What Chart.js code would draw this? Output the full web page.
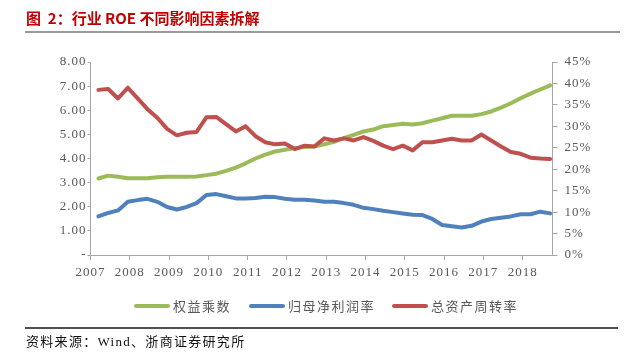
<!DOCTYPE html>
<html lang="zh">
<head>
<meta charset="UTF-8">
<title>行业 ROE 不同影响因素拆解</title>
<script src="https://cdn.jsdelivr.net/npm/chart.js"></script>
<style>
  html, body { margin: 0; padding: 0; background: #fff; }
  #wrap { position: relative; width: 626px; height: 358px; overflow: hidden; }
  #chart { position: absolute; left: 0; top: 0; }
  .title { position: absolute; left: 26px; top: 8px; font: bold 15px "Noto Sans CJK SC", sans-serif; color: #c00000; white-space: pre; line-height: 20px; }
  .rule1 { position: absolute; left: 25px; top: 31px; width: 595px; height: 2px; background: #9a9a9a; }
  .rule2 { position: absolute; left: 25px; top: 327px; width: 593px; height: 2px; background: #505050; }
  .legend { position: absolute; top: 297px; left: 0; height: 18px; }
  .legend .item { position: absolute; top: 0; white-space: nowrap; font: 13px "Noto Sans CJK SC", sans-serif; color: #595959; letter-spacing: 1.5px; line-height: 18px; }
  .legend .swatch { position: absolute; top: 7px; width: 36px; height: 4px; border-radius: 2px; }
  .source { position: absolute; left: 26px; top: 333px; font: 13px "Liberation Serif", "Noto Sans CJK SC", serif; color: #111; letter-spacing: 1.3px; white-space: nowrap; line-height: 18px; }
</style>
</head>
<body>
<div id="wrap">
  <canvas id="chart" width="626" height="358"></canvas>
  <div class="title">图  2：行业 ROE 不同影响因素拆解</div>
  <div class="rule1"></div>
  <div class="legend" id="legend"></div>
  <div class="rule2"></div>
  <div class="source">资料来源：Wind、浙商证券研究所</div>
</div>

<script>
    //季度（2007Q1 - 2018Q3）
    const quarters = [
        '2007Q1', '2007Q2', '2007Q3', '2007Q4',
        '2008Q1', '2008Q2', '2008Q3', '2008Q4',
        '2009Q1', '2009Q2', '2009Q3', '2009Q4',
        '2010Q1', '2010Q2', '2010Q3', '2010Q4',
        '2011Q1', '2011Q2', '2011Q3', '2011Q4',
        '2012Q1', '2012Q2', '2012Q3', '2012Q4',
        '2013Q1', '2013Q2', '2013Q3', '2013Q4',
        '2014Q1', '2014Q2', '2014Q3', '2014Q4',
        '2015Q1', '2015Q2', '2015Q3', '2015Q4',
        '2016Q1', '2016Q2', '2016Q3', '2016Q4',
        '2017Q1', '2017Q2', '2017Q3', '2017Q4',
        '2018Q1', '2018Q2', '2018Q3'
    ];

    // 权益乘数（左轴）
    const equityMultiplier = [
        3.17, 3.29, 3.24, 3.18, 3.18, 3.18, 3.22, 3.24, 3.24, 3.24, 3.25, 3.31,
        3.37, 3.49, 3.62, 3.80, 4.00, 4.16, 4.29, 4.36, 4.43, 4.48, 4.50, 4.59,
        4.69, 4.84, 4.98, 5.12, 5.20, 5.34, 5.39, 5.44, 5.41, 5.46, 5.57, 5.67,
        5.77, 5.77, 5.77, 5.84, 5.95, 6.11, 6.29, 6.50, 6.69, 6.86, 7.03
    ];

    // 归母净利润率 %（右轴）
    const netMargin = [
        9.0, 9.8, 10.4, 12.4, 12.8, 13.1, 12.4, 11.2, 10.6, 11.2, 12.1, 14.0,
        14.2, 13.7, 13.2, 13.2, 13.3, 13.6, 13.5, 13.1, 12.9, 12.9, 12.7, 12.4,
        12.4, 12.1, 11.7, 11.0, 10.7, 10.3, 10.0, 9.7, 9.4, 9.3, 8.4, 7.0,
        6.7, 6.4, 6.8, 7.8, 8.4, 8.7, 9.0, 9.5, 9.5, 10.1, 9.7
    ];

    // 总资产周转率 %（右轴）
    const assetTurnover = [
        38.5, 38.7, 36.5, 39.0, 36.5, 34.0, 32.0, 29.4, 27.9, 28.5, 28.7, 32.1,
        32.2, 30.5, 28.8, 30.0, 27.7, 26.3, 25.8, 26.0, 24.7, 25.5, 25.3, 27.2,
        26.7, 27.2, 26.7, 27.5, 26.6, 25.5, 24.7, 25.5, 24.4, 26.3, 26.3, 26.7,
        27.1, 26.7, 26.7, 28.1, 26.7, 25.3, 24.0, 23.6, 22.7, 22.5, 22.4
    ];

    const yearTicks = [2007, 2008, 2009, 2010, 2011, 2012, 2013, 2014, 2015, 2016, 2017, 2018];

    const series = [
        { label: '权益乘数', data: equityMultiplier, color: '#9bbb59', axis: 'y', order: 3 },
        { label: '归母净利润率', data: netMargin, color: '#4f81bd', axis: 'y1', order: 2 },
        { label: '总资产周转率', data: assetTurnover, color: '#c0504d', axis: 'y1', order: 1 }
    ];

    // 季度 -> 横轴位置（年份小数）
    function quarterPos(q) {
        const year = parseInt(q.slice(0, 4));
        const n = parseInt(q.slice(5));
        return year + 0.2 + (n - 1) * 0.25;
    }

    const axisColor = '#a6a6a6';
    const tickFont = { family: '"Liberation Serif", "Times New Roman", serif', size: 13 };

    const letterSpacing = {
        id: 'letterSpacing',
        beforeDraw(chart) { chart.ctx.letterSpacing = '1px'; }
    };

    const ctx = document.getElementById('chart').getContext('2d');
    new Chart(ctx, {
        type: 'line',
        data: {
            datasets: series.map(s => ({
                label: s.label,
                data: s.data.map((v, i) => ({ x: quarterPos(quarters[i]), y: v })),
                borderColor: s.color,
                backgroundColor: s.color,
                borderWidth: 4,
                pointRadius: 0,
                tension: 0,
                borderJoinStyle: 'round',
                borderCapStyle: 'round',
                yAxisID: s.axis,
                order: s.order
            }))
        },
        options: {
            responsive: false,
            animation: false,
            layout: { padding: { top: 62, left: 0, right: 0, bottom: 0 } },
            plugins: {
                legend: { display: false },
                tooltip: { enabled: false }
            },
            scales: {
                x: {
                    type: 'linear',
                    min: 2007,
                    max: 2018.76,
                    afterFit: scale => { scale.height = 103; },
                    afterBuildTicks: scale => { scale.ticks = yearTicks.map(v => ({ value: v })); },
                    grid: { drawOnChartArea: false, drawTicks: true, tickLength: 5, color: axisColor },
                    border: { color: axisColor },
                    ticks: {
                        autoSkip: false,
                        maxRotation: 0,
                        padding: 5,
                        color: '#595959',
                        font: tickFont,
                        callback: v => String(v)
                    }
                },
                y: {
                    position: 'left',
                    min: 0,
                    max: 8,
                    afterFit: scale => { scale.width = 90.5; },
                    grid: { drawOnChartArea: false, drawTicks: true, tickLength: 3, color: axisColor },
                    border: { color: axisColor },
                    ticks: {
                        stepSize: 1,
                        padding: 1,
                        color: '#595959',
                        font: tickFont,
                        callback: v => v === 0 ? '-' : v.toFixed(2)
                    }
                },
                y1: {
                    position: 'right',
                    min: 0,
                    max: 45,
                    afterFit: scale => { scale.width = 73.5; },
                    grid: { drawOnChartArea: false, drawTicks: true, tickLength: 5, color: axisColor },
                    border: { color: axisColor },
                    ticks: {
                        stepSize: 5,
                        padding: 7,
                        color: '#595959',
                        font: tickFont,
                        callback: v => v + '%'
                    }
                }
            }
        },
        plugins: [letterSpacing]
    });

    // 图例
    const legendPos = [134, 249, 392];
    const legend = document.getElementById('legend');
    series.forEach((s, i) => {
        const item = document.createElement('div');
        item.className = 'item';
        item.style.left = legendPos[i] + 'px';
        item.innerHTML = '<span class="swatch" style="left:0;background:' + s.color + '"></span>'
            + '<span style="padding-left:39px">' + s.label + '</span>';
        legend.appendChild(item);
    });
</script>
</body>
</html>
